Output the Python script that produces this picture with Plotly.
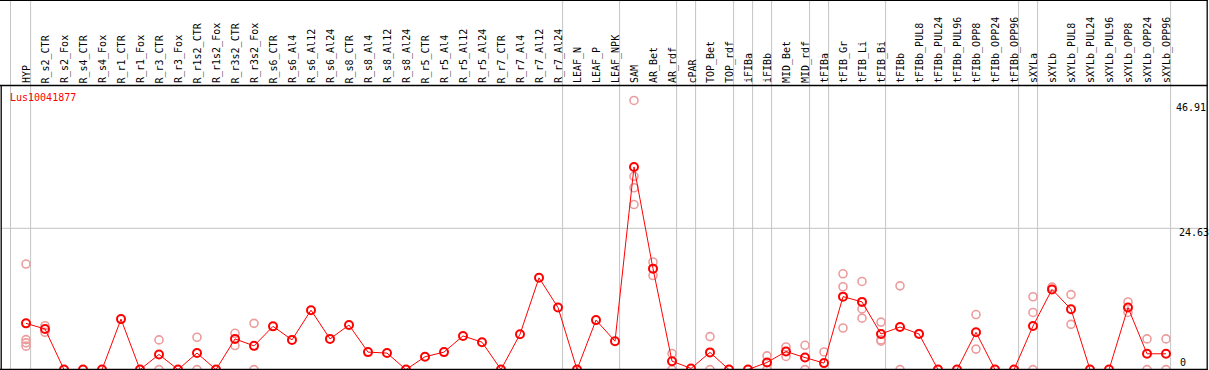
import plotly.graph_objects as go

categories = ["HYP", "R_s2_CTR", "R_s2_Fox", "R_s4_CTR", "R_s4_Fox", "R_r1_CTR", "R_r1_Fox",
              "R_r3_CTR", "R_r3_Fox", "R_r1s2_CTR", "R_r1s2_Fox", "R_r3s2_CTR", "R_r3s2_Fox",
              "R_s6_CTR", "R_s6_Al4", "R_s6_Al12", "R_s6_Al24", "R_s8_CTR", "R_s8_Al4",
              "R_s8_Al12", "R_s8_Al24", "R_r5_CTR", "R_r5_Al4", "R_r5_Al12", "R_r5_Al24",
              "R_r7_CTR", "R_r7_Al4", "R_r7_Al12", "R_r7_Al24", "LEAF_N", "LEAF_P", "LEAF_NPK",
              "SAM", "AR_Bet", "AR_rdf", "cPAR", "TOP_Bet", "TOP_rdf", "iFIBa", "iFIBb",
              "MID_Bet", "MID_rdf", "tFIBa", "tFIB_Gr", "tFIB_Li", "tFIB_Bi", "tFIBb",
              "tFIBb_PUL8", "tFIBb_PUL24", "tFIBb_PUL96", "tFIBb_OPP8", "tFIBb_OPP24",
              "tFIBb_OPP96", "sXYLa", "sXYLb", "sXYLb_PUL8", "sXYLb_PUL24", "sXYLb_PUL96",
              "sXYLb_OPP8", "sXYLb_OPP24", "sXYLb_OPP96"]

mean_values = [8.06, 7.08, 0, 0, 0, 8.8, 0,
               2.64, 0, 2.88, 0, 5.35, 4.14,
               7.54, 5.18, 10.36, 5.35, 7.77, 3.05,
               2.88, 0, 2.24, 3.05, 5.87, 4.78,
               0, 6.16, 16.0, 10.82, 0, 8.63, 4.95,
               35.33, 17.6, 1.47, 0.2, 3.0, 0, 0, 1.25,
               3.15, 2.1, 1.13, 12.72, 11.8, 6.21, 7.42,
               6.21, 0, 0, 6.5, 0,
               0, 7.6, 13.98, 10.53, 0, 0,
               10.82, 2.76, 2.76]

rep_categories = ["HYP", "HYP", "HYP", "HYP", "R_s2_CTR", "R_s2_CTR",
                  "R_r3_CTR", "R_r3_CTR", "R_r1s2_CTR", "R_r1s2_CTR",
                  "R_r3s2_CTR", "R_r3s2_CTR", "R_r3s2_Fox", "R_r3s2_Fox",
                  "SAM", "SAM", "SAM", "SAM", "AR_Bet", "AR_Bet", "AR_rdf", "AR_rdf",
                  "TOP_Bet", "TOP_Bet", "iFIBb", "iFIBb", "MID_Bet", "MID_Bet",
                  "MID_rdf", "MID_rdf", "tFIBa",
                  "tFIB_Gr", "tFIB_Gr", "tFIB_Gr", "tFIB_Li", "tFIB_Li", "tFIB_Li",
                  "tFIB_Bi", "tFIB_Bi", "tFIB_Bi", "tFIBb", "tFIBb", "tFIBb_PUL8",
                  "tFIBb_OPP8", "tFIBb_OPP8", "sXYLa", "sXYLa", "sXYLa",
                  "sXYLb", "sXYLb_PUL8", "sXYLb_PUL8", "sXYLb_OPP8", "sXYLb_OPP8",
                  "sXYLb_OPP24", "sXYLb_OPP24", "sXYLb_OPP96", "sXYLb_OPP96"]
rep_values = [18.4, 5.23, 4.66, 4.09, 7.65, 6.5,
              5.18, 0, 5.64, 0,
              6.33, 4.19, 8.06, 0,
              46.91, 33.7, 31.7, 28.77, 18.76, 16.4, 2.8, 0,
              5.75, 0, 2.4, 0, 3.95, 2.29,
              4.24, 0, 3.08,
              16.7, 14.44, 7.25, 15.36, 10.58, 8.97,
              8.28, 5.18, 4.95, 14.6, 0, 6.3,
              9.6, 3.57, 12.7, 9.96, 0,
              14.38, 13.07, 7.89, 11.79, 9.96,
              5.35, 0, 5.35, 0]

separator_after = ["HYP", "R_r7_Al24", "LEAF_NPK", "AR_rdf", "cPAR", "TOP_rdf", "iFIBa",
                   "iFIBb", "MID_rdf", "tFIBa", "tFIB_Bi", "tFIBb_OPP96", "sXYLa", "sXYLb_OPP96"]

y_tick_values = [46.91, 24.63, 0]
y_tick_labels = ["46.91", "24.63", "0"]
gene_name = "Lus10041877"

W, H = 1209, 370
PX_PER_CAT = 19.0
X0_PIX = 26.0
xmin = -X0_PIX / PX_PER_CAT
xmax = xmin + W / PX_PER_CAT

PLOT_TOP, PLOT_BOT = 86.0, 370.0
ZERO_PIX = 369.6
PX_PER_UNIT = (ZERO_PIX - 228.3) / 24.63
ymin = (ZERO_PIX - PLOT_BOT) / PX_PER_UNIT
ymax = (ZERO_PIX - PLOT_TOP) / PX_PER_UNIT


def py(pix):
    return (H - pix) / H


idx = {c: i for i, c in enumerate(categories)}
x_mean = [idx[c] for c in categories]
x_rep = [idx[c] for c in rep_categories]

fig = go.Figure()
fig.add_trace(go.Scatter(
    x=x_rep, y=rep_values, mode="markers", cliponaxis=False,
    marker=dict(symbol="circle-open", size=8, color="#ec9c9c", line=dict(width=1.6, color="#ec9c9c")),
    hoverinfo="skip", showlegend=False))
fig.add_trace(go.Scatter(
    x=x_mean, y=mean_values, mode="lines+markers", cliponaxis=False,
    line=dict(color="#ff0000", width=1),
    marker=dict(symbol="circle-open", size=8, color="#ff0000", line=dict(width=2, color="#ff0000")),
    showlegend=False))

shapes = []
gray = "#c4c4c4"
for c in separator_after:
    xv = idx[c] + 4.6 / PX_PER_CAT
    shapes.append(dict(type="line", xref="x", yref="paper", x0=xv, x1=xv, y0=0, y1=1,
                       line=dict(color=gray, width=1), layer="below"))
shapes.append(dict(type="line", xref="x", yref="paper", x0=xmin + 10.5 / PX_PER_CAT,
                   x1=xmin + 10.5 / PX_PER_CAT, y0=0, y1=1, line=dict(color=gray, width=1), layer="below"))
shapes.append(dict(type="line", xref="paper", yref="y", x0=1 / W, x1=1207 / W, y0=24.63, y1=24.63,
                   line=dict(color=gray, width=1), layer="below"))
black = "#000000"
shapes += [
    dict(type="line", xref="paper", yref="paper", x0=0, x1=1207.5 / W, y0=py(0.5), y1=py(0.5), line=dict(color=black, width=1)),
    dict(type="line", xref="paper", yref="paper", x0=0, x1=1207.5 / W, y0=py(85.5), y1=py(85.5), line=dict(color=black, width=1.3)),
    dict(type="line", xref="paper", yref="paper", x0=0, x1=1207.5 / W, y0=py(369.5), y1=py(369.5), line=dict(color=black, width=1.3)),
    dict(type="line", xref="paper", yref="paper", x0=1.2 / W, x1=1.2 / W, y0=py(85.5), y1=py(370), line=dict(color=black, width=1.3)),
    dict(type="line", xref="paper", yref="paper", x0=1207.2 / W, x1=1207.2 / W, y0=py(0), y1=py(370), line=dict(color=black, width=1.3)),
]

annotations = []
mono = "DejaVu Sans Mono"
for c in categories:
    annotations.append(dict(x=idx[c], xref="x", y=py(84.5), yref="paper", text=c, showarrow=False,
                            textangle=-90, xanchor="center", yanchor="bottom", xshift=0.5,
                            font=dict(family=mono, size=10, color="#000000"), borderpad=0))
annotations.append(dict(x=8.5 / W, xref="paper", y=py(97), yref="paper", text=gene_name, showarrow=False,
                        xanchor="left", yanchor="middle", font=dict(family=mono, size=10, color="#ff0000"), borderpad=0))
label_pos = {"46.91": (1175, 107.5), "24.63": (1178, 232.5), "0": (1179, 362)}
for v, t in zip(y_tick_values, y_tick_labels):
    lx, ly = label_pos[t]
    annotations.append(dict(x=lx / W, xref="paper", y=py(ly), yref="paper", text=t, showarrow=False,
                            xanchor="left", yanchor="middle", font=dict(family=mono, size=10, color="#000000"), borderpad=0))

fig.update_layout(
    width=W, height=H, margin=dict(l=0, r=0, t=0, b=0, pad=0),
    paper_bgcolor="white", plot_bgcolor="white",
    xaxis=dict(range=[xmin, xmax], visible=False, showgrid=False, zeroline=False),
    yaxis=dict(range=[ymin, ymax], domain=[py(PLOT_BOT), py(PLOT_TOP)], visible=False,
               showgrid=False, zeroline=False),
    shapes=shapes, annotations=annotations, showlegend=False,
)

fig.write_html("out.html", config={"displayModeBar": False},
               post_script="document.body.style.margin='0px';document.body.style.overflow='hidden';")
